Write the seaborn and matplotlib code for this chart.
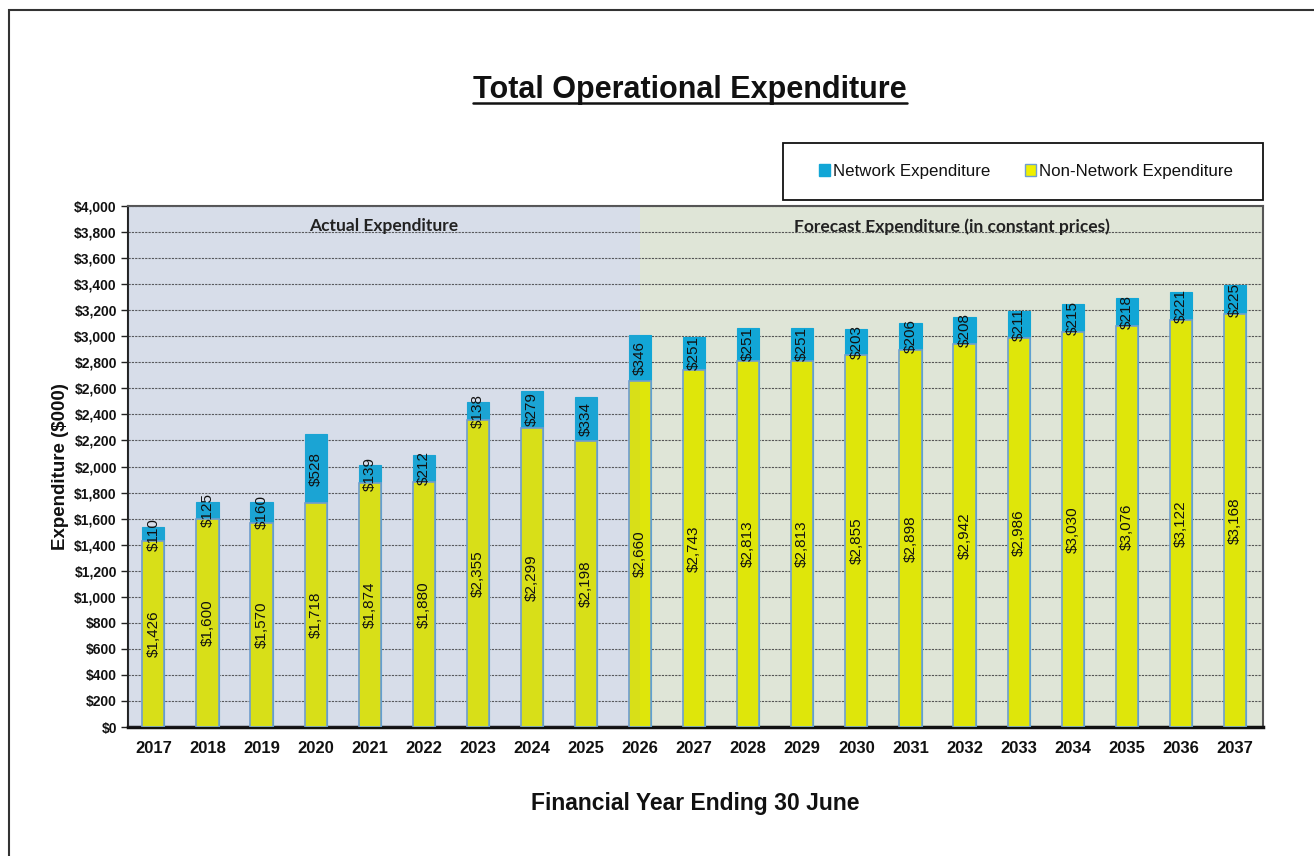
import matplotlib
matplotlib.use("Agg")
import matplotlib.pyplot as plt
import seaborn as sns
import pandas as pd
from matplotlib.patches import Rectangle, Patch
from matplotlib.lines import Line2D
from matplotlib.ticker import FuncFormatter, MultipleLocator

years = [str(y) for y in range(2017, 2038)]
non_network = [1426, 1600, 1570, 1718, 1874, 1880, 2355, 2299, 2198, 2660, 2743,
               2813, 2813, 2855, 2898, 2942, 2986, 3030, 3076, 3122, 3168]
network = [110, 125, 160, 528, 139, 212, 138, 279, 334, 346, 251,
           251, 251, 203, 206, 208, 211, 215, 218, 221, 225]
actual_end = "2026"

df = pd.DataFrame({"year": years, "non_network": non_network, "network": network})
df["total"] = df["non_network"] + df["network"]

sns.set_style("white")
plt.rcParams["font.family"] = ["Liberation Sans", "DejaVu Sans"]
plt.rcParams["text.color"] = "#111"
plt.rcParams["axes.labelcolor"] = "#111"
plt.rcParams["xtick.color"] = "#111"
plt.rcParams["ytick.color"] = "#111"

YELLOW = "#dfe60a"
BLUE = "#12a6d6"
EDGE = "#6f9fd0"

fig = plt.figure(figsize=(13.14, 8.56), dpi=100)
ax = fig.add_axes([0.0974, 0.1507, 0.8638, 0.6086])

split = years.index(actual_end)
ax.axvspan(-0.47, split, color="#dee4ed", zorder=0, lw=0)
ax.axvspan(split, len(years) - 0.48, color="#dfe5d7", zorder=0, lw=0)

# stacked bars: totals (network on top) then the non-network part over them
sns.barplot(data=df, x="year", y="total", color=BLUE, saturation=1, width=0.41,
            edgecolor=BLUE, linewidth=0.8, ax=ax, zorder=3)
sns.barplot(data=df, x="year", y="non_network", color=YELLOW, saturation=1, width=0.41,
            edgecolor=EDGE, linewidth=1.2, ax=ax, zorder=4)

# tint over the actual years
ax.axvspan(-0.47, split, color="#8890c0", alpha=0.08, zorder=5, lw=0)

for i, row in df.iterrows():
    ax.text(i, row["non_network"] / 2, f"${row['non_network']:,}", rotation=90,
            ha="center", va="center", fontsize=11, color="#111", zorder=6)
    ax.text(i, row["non_network"] + row["network"] / 2, f"${row['network']:,}", rotation=90,
            ha="center", va="center", fontsize=11, color="#111", zorder=6)

ax.set_xlim(-0.47, len(years) - 0.48)
ax.set_ylim(0, 4000)
ax.yaxis.set_major_locator(MultipleLocator(200))
ax.yaxis.set_major_formatter(FuncFormatter(lambda v, p: f"${v:,.0f}"))
ax.yaxis.grid(True, linestyle=(0, (2, 1)), color="#555555", linewidth=0.8, zorder=1)
ax.set_axisbelow(True)
ax.tick_params(axis="y", length=5, width=1, color="#222", labelsize=10, pad=3, left=True)
ax.tick_params(axis="x", length=0, labelsize=12, pad=10)
for lbl in ax.get_xticklabels() + ax.get_yticklabels():
    lbl.set_fontweight("bold")

for side, lw, col in [("left", 1.5, "#222"), ("bottom", 2.5, "#111"),
                      ("top", 1.5, "#555"), ("right", 1.5, "#555")]:
    ax.spines[side].set_visible(True)
    ax.spines[side].set_linewidth(lw)
    ax.spines[side].set_color(col)

ax.set_xlabel("Financial Year Ending 30 June", fontsize=16.5, fontweight="bold", labelpad=26)
ax.set_ylabel("Expenditure ($000)", fontsize=13.5, fontweight="bold", labelpad=4)

ax.text((-0.47 + split) / 2, 3845, "Actual Expenditure", ha="center", va="center",
        fontsize=12.5, fontweight="bold", family=["Lato", "DejaVu Sans"], color="#222", zorder=6)
ax.text((split + len(years) - 0.48) / 2, 3845, "Forecast Expenditure (in constant prices)",
        ha="center", va="center", fontsize=12.5, fontweight="bold",
        family=["Lato", "DejaVu Sans"], color="#222", zorder=6)

# legend box
W, H = 1314, 856
fig.patches.append(Rectangle((783 / W, 1 - 200 / H), 480 / W, 57 / H, transform=fig.transFigure,
                             fill=False, edgecolor="#111", linewidth=1.3))
handles = [Patch(facecolor=BLUE, edgecolor=BLUE, label="Network Expenditure"),
           Patch(facecolor="#f0f000", edgecolor=EDGE, label="Non-Network Expenditure")]
fig.legend(handles=handles, loc="center", bbox_to_anchor=(1026 / W, 1 - 171.5 / H), ncol=2,
           frameon=False, fontsize=12.2, handlelength=0.65, handleheight=0.65,
           handletextpad=0.2, columnspacing=2.0)

# outer chart border
fig.patches.append(Rectangle((9 / W, -0.1), 1.2, 1.1 - 10 / H, transform=fig.transFigure,
                             fill=False, edgecolor="#333", linewidth=1.5))

title = fig.text(690 / W, 1 - 90 / H, "Total Operational Expenditure", ha="center", va="center",
                 fontsize=22, fontweight="bold", color="#111")
fig.canvas.draw()
bb = title.get_window_extent().transformed(fig.transFigure.inverted())
fig.lines.append(Line2D([bb.x0, bb.x1], [bb.y0 + 0.002, bb.y0 + 0.002], transform=fig.transFigure,
                        color="#111", linewidth=1.8))

fig.savefig("out.png", dpi=100)
